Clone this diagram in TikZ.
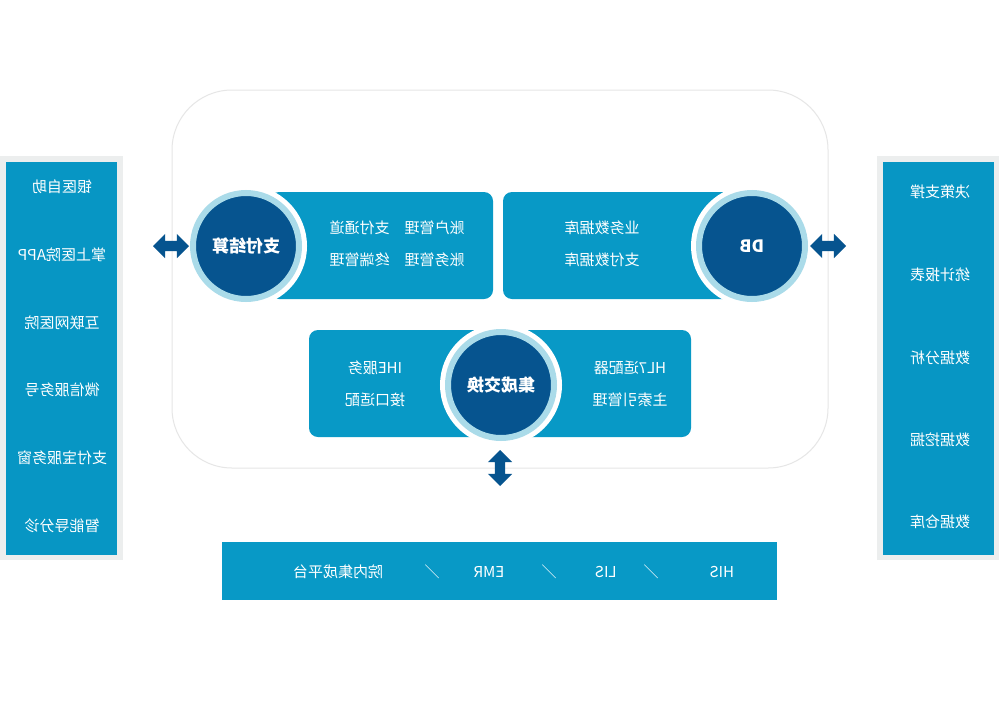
\documentclass[tikz,border=0pt]{standalone}
\usepackage{fontspec}
\newfontfamily\cjk{Noto Sans CJK SC}
\usetikzlibrary{shapes.arrows}
\definecolor{boxblue}{RGB}{8,153,198}
\definecolor{panelblue}{RGB}{7,150,196}
\definecolor{darkblue}{RGB}{6,84,143}
\definecolor{ringblue}{RGB}{170,219,233}
\definecolor{framegray}{RGB}{236,238,238}
\definecolor{outlinegray}{RGB}{230,230,230}
\newcommand\mtext[1]{\reflectbox{#1}}
\begin{document}
\begin{tikzpicture}[x=1pt,y=-1pt,
  txt/.style={text=white,font=\cjk\fontsize{15}{17}\selectfont,inner sep=0pt},
  ctxt/.style={text=white,font=\cjk\bfseries\fontsize{17}{19}\selectfont},
  circ/.style={ctxt,circle,minimum size=106pt,fill=darkblue,draw=ringblue,line width=6pt,
    preaction={draw=white,line width=16pt}},
  dbl/.style={shape=double arrow,fill=darkblue,draw=none,inner sep=5pt,
    double arrow head extend=7pt,minimum height=36pt},
  panel/.style={fill=panelblue},
  frame/.style={fill=framegray},
  bluebox/.style={fill=boxblue,rounded corners=9pt}]
\useasboundingbox[fill=white] (0,0) rectangle (1000,712);

% big outline
\draw[outlinegray,line width=1pt,rounded corners=60pt] (172,90) rectangle (828,468);

% side panels
\fill[frame] (0,156) rectangle (123,560);
\fill[panel] (6,162) rectangle (117,555);
\fill[frame] (877,156) rectangle (999,560);
\fill[panel] (883,162) rectangle (994,555);

\node[txt] (l1) at (62,187) {\mtext{银医自助}};
\node[txt] (l2) at (62,255) {\mtext{掌上医院APP}};
\node[txt] (l3) at (62,323) {\mtext{互联网医院}};
\node[txt] (l4) at (62,390) {\mtext{微信服务号}};
\node[txt] (l5) at (62,458) {\mtext{支付宝服务窗}};
\node[txt] (l6) at (62,526) {\mtext{智能导分诊}};

\node[txt] (r1) at (940,192) {\mtext{决策支撑}};
\node[txt] (r2) at (940,275) {\mtext{统计报表}};
\node[txt] (r3) at (940,358) {\mtext{数据分析}};
\node[txt] (r4) at (940,440) {\mtext{数据挖掘}};
\node[txt] (r5) at (940,522) {\mtext{数据仓库}};

% boxes
\fill[bluebox] (270,192) rectangle (493,299);
\fill[bluebox] (503,192) rectangle (740,299);
\fill[bluebox] (309,330) rectangle (691,437);

\node[txt] (p1) at (397,228) {\mtext{账户管理\hspace{1em}支付通道}};
\node[txt] (p2) at (397,260) {\mtext{账务管理\hspace{1em}终端管理}};
\node[txt] (d1) at (602,228) {\mtext{业务数据库}};
\node[txt] (d2) at (602,260) {\mtext{支付数据库}};
\node[txt] (m1) at (375,368) {\mtext{IHE服务}};
\node[txt] (m2) at (375,400) {\mtext{接口适配}};
\node[txt] (m3) at (630,368) {\mtext{HL7适配器}};
\node[txt] (m4) at (630,400) {\mtext{主索引管理}};

% circles
\node[circ] (pay) at (246,246) {\mtext{支付结算}};
\node[circ] (db) at (752,246) {\mtext{DB}};
\node[circ] (jc) at (501,385) {\mtext{集成交换}};

% arrows
\node[dbl] (a1) at (171,246) {};
\node[dbl] (a2) at (828,246) {};
\node[dbl,rotate=90] (a3) at (500,468) {};

% bottom bar
\fill[fill=boxblue] (222,542) rectangle (777,600);
\node[txt] (b1) at (722,572) {\mtext{HIS}};
\node[txt] (s1) at (651,572) {\mtext{／}};
\node[txt] (b2) at (606,572) {\mtext{LIS}};
\node[txt] (s2) at (549,572) {\mtext{／}};
\node[txt] (b3) at (489,572) {\mtext{EMR}};
\node[txt] (s3) at (432,572) {\mtext{／}};
\node[txt] (b4) at (338,572) {\mtext{院内集成平台}};
\end{tikzpicture}
\end{document}
